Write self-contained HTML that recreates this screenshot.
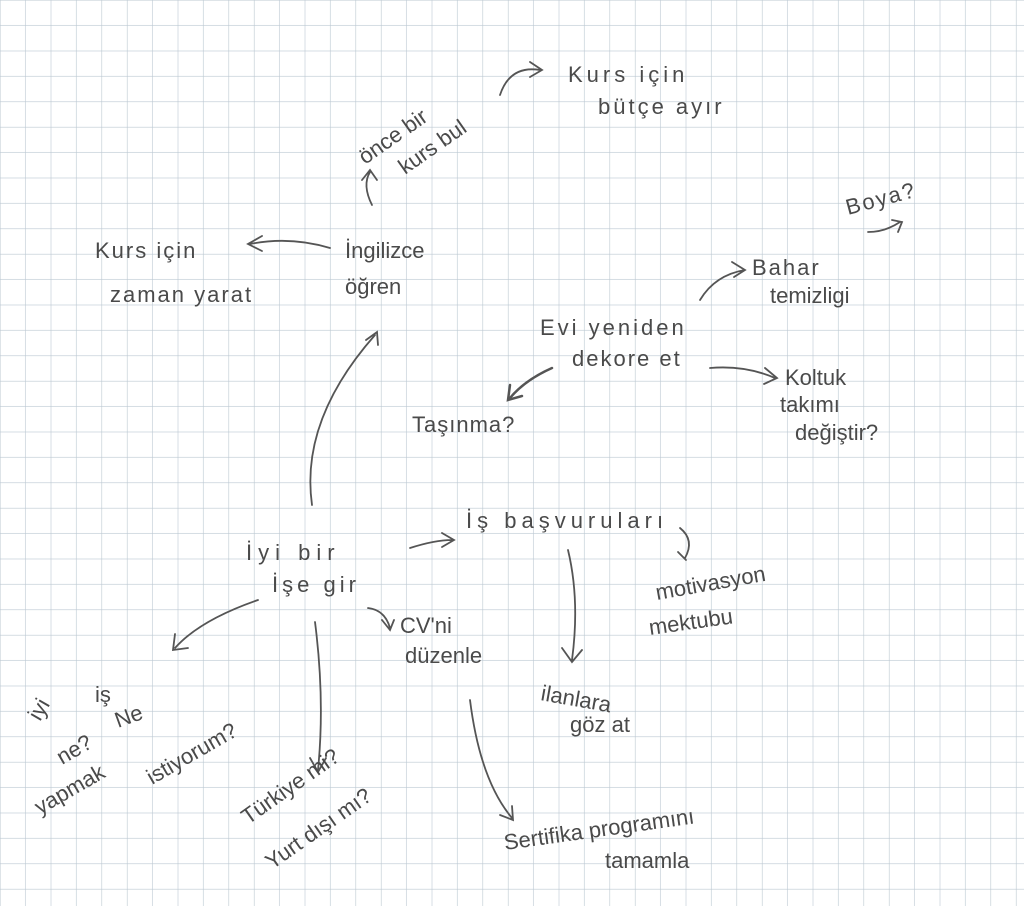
<!DOCTYPE html>
<html><head><meta charset="utf-8"><style>
html,body{margin:0;padding:0;background:#fff}
svg{display:block}
text{font-family:"Liberation Sans",sans-serif;fill:#4a4a4a;font-size:22px}
path{fill:none;stroke:#555;stroke-width:1.8;stroke-linecap:round}
</style></head><body>
<svg width="1024" height="906" viewBox="0 0 1024 906">
<defs><pattern id="g" x="0.5" y="0.5" width="25.4" height="25.4" patternUnits="userSpaceOnUse"><path d="M25.4 0V25.4M0 25.4H25.4" style="stroke:#bcc8d2;stroke-width:1.2"/></pattern></defs>
<rect width="1024" height="906" fill="url(#g)"/>
<text x="568" y="82" font-size="24" letter-spacing="4">Kurs  için</text>
<text x="598" y="114" font-size="24" letter-spacing="3">bütçe ayır</text>
<text transform="translate(365 165) rotate(-35)" font-size="19">önce bir</text>
<text transform="translate(405 175) rotate(-35)" font-size="19">kurs bul</text>
<path d="M500 95 Q510 65 540 70 M530 62 L542 70 L530 77"/>
<path d="M372 205 Q362 185 370 172 M362 180 L370 170 L377 180"/>
<text x="345" y="258" font-size="24">İngilizce</text>
<text x="345" y="294" font-size="24">öğren</text>
<text x="95" y="258" font-size="24" letter-spacing="2">Kurs için</text>
<text x="110" y="302" font-size="24" letter-spacing="2">zaman yarat</text>
<path d="M330 248 Q290 236 250 244 M262 236 L248 244 L262 251"/>
<text transform="translate(848 215) rotate(-15)" font-size="26" letter-spacing="2">Boya?</text>
<path d="M868 232 Q885 232 900 222 M892 220 L902 222 L898 232"/>
<text x="752" y="275" letter-spacing="2">Bahar</text>
<text x="770" y="303" font-size="20">temizligi</text>
<path d="M700 300 Q715 275 745 270 M732 262 L745 270 L734 277"/>
<text x="540" y="335" font-size="24" letter-spacing="3">Evi  yeniden</text>
<text x="572" y="366" font-size="24" letter-spacing="2">dekore et</text>
<text x="785" y="385">Koltuk</text>
<text x="780" y="412">takımı</text>
<text x="795" y="440">değiştir?</text>
<path d="M710 368 Q745 365 775 378 M765 368 L777 378 L764 384"/>
<text x="412" y="432" letter-spacing="1">Taşınma?</text>
<path d="M552 368 Q525 380 510 398 M510 385 L508 400 L522 396" style="stroke-width:2.5"/>
<path d="M312 505 Q300 420 375 335 M366 340 L377 332 L378 345"/>
<text x="246" y="560" font-size="26" letter-spacing="6">İyi  bir</text>
<text x="272" y="592" font-size="26" letter-spacing="4">İşe gir</text>
<text x="466" y="528" font-size="24" letter-spacing="5">İş başvuruları</text>
<path d="M410 548 Q435 540 452 540 M442 533 L454 540 L442 547"/>
<path d="M680 528 Q695 540 685 558 M678 552 L686 560"/>
<text transform="translate(657 600) rotate(-10)">motivasyon</text>
<text transform="translate(650 635) rotate(-8)">mektubu</text>
<path d="M568 550 Q580 600 572 660 M562 648 L572 662 L582 650"/>
<text transform="translate(540 700) rotate(10)">ilanlara</text>
<text x="570" y="732">göz at</text>
<text x="400" y="633">CV'ni</text>
<text x="405" y="663">düzenle</text>
<path d="M368 608 Q385 610 390 628 M382 620 L390 630 L394 620"/>
<path d="M470 700 Q480 780 512 818 M500 815 L513 820 L512 806"/>
<text transform="translate(505 850) rotate(-8)" font-size="26">Sertifika programını</text>
<text x="605" y="868">tamamla</text>
<path d="M258 600 Q200 620 175 648 M175 634 L173 650 L188 648"/>
<text transform="translate(40 722) rotate(-60)" font-size="24">iyi</text>
<text x="95" y="702" font-size="24">iş</text>
<text transform="translate(62 765) rotate(-30)" font-size="24">ne?</text>
<text transform="translate(118 728) rotate(-20)" font-size="28">Ne</text>
<text transform="translate(40 815) rotate(-30)" font-size="26">yapmak</text>
<text transform="translate(152 785) rotate(-30)" font-size="24">istiyorum?</text>
<path d="M315 622 Q325 700 318 770 M310 758 L318 772 L326 758"/>
<text transform="translate(248 825) rotate(-35)" font-size="24">Türkiye mi?</text>
<text transform="translate(272 870) rotate(-35)" font-size="24">Yurt dışı mı?</text>
</svg>
</body></html>
